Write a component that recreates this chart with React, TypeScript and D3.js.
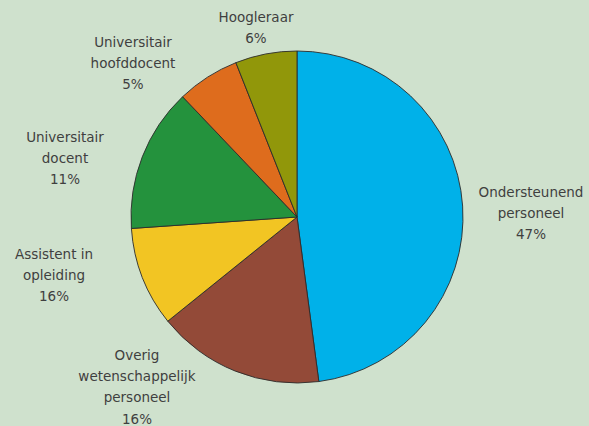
import React, { useEffect, useRef } from "react";
import * as d3 from "d3";

// slices clockwise from 12 o'clock
const categories = [
  "Ondersteunend personeel",
  "Overig wetenschappelijk personeel",
  "Assistent in opleiding",
  "Universitair docent",
  "Universitair hoofddocent",
  "Hoogleraar",
];
const shares = [47.9, 16.3, 9.7, 14.0, 6.1, 6.0];
// percentages as printed in the labels
const labelPct = ["47%", "16%", "16%", "11%", "5%", "6%"];
// how each label is broken into lines
const labelLines = [
  ["Ondersteunend", "personeel"],
  ["Overig", "wetenschappelijk", "personeel"],
  ["Assistent in", "opleiding"],
  ["Universitair", "docent"],
  ["Universitair", "hoofddocent"],
  ["Hoogleraar"],
];

const colors = ["#00b1e9", "#934a38", "#f2c523", "#24923d", "#de6c1d", "#91970a"];

// label block centres (x) and first line centre (y)
const labelPos: [number, number][] = [
  [531, 192],
  [137, 355],
  [54, 254],
  [65, 137],
  [133, 42],
  [256, 17],
];

const PieChart = () => {
  const svgRef = useRef<SVGSVGElement | null>(null);

  useEffect(() => {
    document.body.style.margin = "0";
    const width = 589;
    const height = 426;
    const cx = 297;
    const cy = 217;
    const radius = 166;

    const svg = d3.select(svgRef.current);
    svg.selectAll("*").remove();
    svg.attr("width", width).attr("height", height);

    svg.append("rect").attr("width", width).attr("height", height).attr("fill", "#cfe1cd");

    const data = categories.map((c, i) => ({ name: c, value: shares[i], i }));
    const pie = d3
      .pie<{ name: string; value: number; i: number }>()
      .sort(null)
      .value((d) => d.value);
    const arc = d3
      .arc<d3.PieArcDatum<{ name: string; value: number; i: number }>>()
      .innerRadius(0)
      .outerRadius(radius);

    const g = svg.append("g").attr("transform", `translate(${cx},${cy})`);
    g.selectAll("path")
      .data(pie(data))
      .join("path")
      .attr("d", arc)
      .attr("fill", (d) => colors[d.data.i])
      .attr("stroke", "#2b2b2b")
      .attr("stroke-width", 0.9)
      .attr("stroke-linejoin", "round");

    // labels
    const lab = svg.append("g");
    data.forEach((d, i) => {
      const lines = [...labelLines[i], labelPct[i]];
      const t = lab
        .append("text")
        .attr("text-anchor", "middle")
        .attr("font-family", "'DejaVu Sans', sans-serif")
        .attr("font-size", "13.5px")
        .attr("fill", "#3f3f3f");
      lines.forEach((ln, k) => {
        t.append("tspan")
          .attr("x", labelPos[i][0])
          .attr("y", labelPos[i][1] + k * 21.3)
          .attr("dy", "0.35em")
          .text(ln);
      });
    });
  }, []);

  return <svg ref={svgRef} style={{ display: "block" }}></svg>;
};

export default function App() {
  return <PieChart />;
}
